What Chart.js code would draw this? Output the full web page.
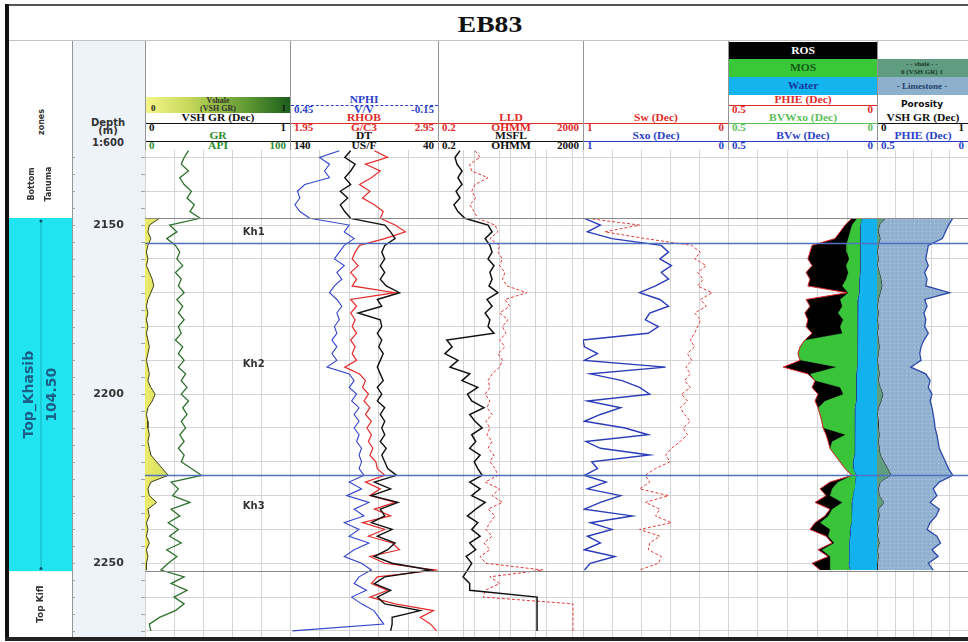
<!DOCTYPE html>
<html>
<head>
<meta charset="utf-8">
<title>EB83</title>
<script src="https://cdn.jsdelivr.net/npm/chart.js@4.4.1/dist/chart.umd.min.js"></script>
<style>
	html, body { margin: 0; padding: 0; background: #fff; }
	#log { position: relative; width: 968px; height: 642px; overflow: hidden; background: #fff; }
	#log div, #log canvas { position: absolute; }
	.t { white-space: nowrap; line-height: 1; font-weight: bold; font-family: 'Liberation Serif', serif; }
</style>
</head>
<body>
<div id="log"></div>
<script>
// ---- data (depth in m) ----
var depthRange = [2127.8, 2271.8];
var depthAll = [2128, 2130, 2132, 2134, 2136, 2138, 2140, 2142, 2144, 2146,
	2148, 2150, 2152, 2154, 2156, 2158, 2160, 2162, 2164, 2166,
	2168, 2170, 2172, 2174, 2176, 2178, 2180, 2182, 2184, 2186,
	2188, 2190, 2192, 2194, 2196, 2198, 2200, 2202, 2204, 2206,
	2208, 2210, 2212, 2214, 2216, 2218, 2220, 2222, 2224, 2226,
	2228, 2230, 2232, 2234, 2236, 2238, 2240, 2242, 2244, 2246,
	2248, 2250, 2252, 2254, 2256, 2258, 2260, 2262, 2264, 2266,
	2268, 2270];
var depthKh = [2148, 2150, 2152, 2154, 2156, 2158, 2160, 2162, 2164, 2166,
	2168, 2170, 2172, 2174, 2176, 2178, 2180, 2182, 2184, 2186,
	2188, 2190, 2192, 2194, 2196, 2198, 2200, 2202, 2204, 2206,
	2208, 2210, 2212, 2214, 2216, 2218, 2220, 2222, 2224, 2226,
	2228, 2230, 2232, 2234, 2236, 2238, 2240, 2242, 2244, 2246,
	2248, 2250, 2252];

var gr = [30, 27, 25, 30, 24, 27, 32, 29, 34, 31,
	38, 17, 22, 15, 21, 24, 22, 26, 21, 25,
	23, 27, 22, 26, 23, 27, 23, 25, 21, 26,
	23, 27, 23, 28, 25, 29, 25, 30, 26, 29,
	25, 28, 24, 27, 23, 27, 25, 32, 39, 18,
	23, 19, 31, 18, 24, 16, 23, 17, 25, 15,
	22, 16, 11, 27, 18, 29, 20, 27, 21, 10,
	3, 4];
var nphi = [0.25, 0.33, 0.29, 0.31, 0.29, 0.39, 0.42, 0.41, 0.43, 0.41,
	0.37, 0.21, 0.23, 0.19, 0.23, 0.25, 0.27, 0.23, 0.26, 0.24,
	0.27, 0.29, 0.26, 0.24, 0.26, 0.25, 0.27, 0.26, 0.28, 0.26,
	0.28, 0.26, 0.30, 0.21, 0.19, 0.21, 0.18, 0.20, 0.17, 0.19,
	0.17, 0.19, 0.17, 0.18, 0.16, 0.17, 0.16, 0.17, 0.15, 0.21,
	0.16, 0.22, 0.13, 0.19, 0.15, 0.23, 0.17, 0.21, 0.13, 0.19,
	0.23, 0.16, 0.12, 0.17, 0.19, 0.14, 0.20, 0.16, 0.11, 0.09,
	0.07, 0.44];
var rhob = [2.52, 2.61, 2.46, 2.56, 2.50, 2.42, 2.49, 2.44, 2.52, 2.58,
	2.56, 2.66, 2.73, 2.59, 2.42, 2.39, 2.37, 2.41, 2.36, 2.40,
	2.37, 2.66, 2.36, 2.40, 2.36, 2.39, 2.37, 2.40, 2.36, 2.39,
	2.37, 2.40, 2.32, 2.42, 2.46, 2.44, 2.48, 2.45, 2.49, 2.46,
	2.50, 2.47, 2.50, 2.48, 2.51, 2.49, 2.53, 2.54, 2.59, 2.46,
	2.56, 2.49, 2.66, 2.52, 2.63, 2.44, 2.59, 2.48, 2.64, 2.69,
	2.49, 2.59, 2.94, 2.54, 2.50, 2.61, 2.49, 2.66, 2.92, 2.83,
	2.90, 2.94];
var dt = [99, 103, 96, 99, 103, 99, 106, 101, 106, 103,
	99, 76, 72, 69, 76, 78, 76, 79, 76, 79,
	75, 66, 81, 78, 94, 79, 78, 81, 78, 80,
	77, 79, 81, 79, 77, 81, 78, 81, 76, 79,
	76, 78, 76, 79, 75, 78, 76, 74, 68, 83,
	72, 85, 67, 79, 76, 85, 71, 81, 69, 74,
	83, 71, 45, 76, 83, 72, 81, 76, 52, 71,
	71, 72];
var lld = [2.1, 2.9, 1.5, 1.7, 4.8, 2.1, 1.7, 2.2, 1.5, 2.0,
	2.5, 7.5, 9.0, 5.4, 10, 9.0, 12, 10, 14, 12,
	16, 57, 14, 19, 10, 17, 12, 15, 10, 14,
	9.0, 12, 10, 6.2, 4.8, 5.4, 4.0, 5.4, 4.5, 6.2,
	4.2, 5.4, 4.5, 6.2, 4.8, 7.0, 5.4, 7.5, 9.0, 4.0,
	10, 6.2, 12, 4.8, 7.5, 5.4, 4.2, 6.2, 3.7, 5.4,
	2.9, 4.2, 158, 5.4, 10, 4.0, 3.5, 1060, 1060, 1060,
	1060, 1060];
var msfl = [0.81, 0.59, 0.67, 0.92, 0.71, 0.92, 0.63, 0.81, 0.55, 0.71,
	1.1, 4.8, 6.2, 4.0, 5.4, 6.2, 4.8, 7.0, 5.4, 6.2,
	5.1, 9.0, 4.5, 6.2, 4.0, 5.4, 4.8, 7.0, 0.35, 0.49,
	0.31, 0.71, 0.43, 1.5, 0.92, 2.5, 1.3, 1.7, 3.7, 1.5,
	2.1, 3.3, 1.7, 2.2, 1.5, 2.9, 2.0, 2.5, 3.3, 1.5,
	2.9, 1.7, 4.0, 2.2, 1.3, 2.5, 1.7, 2.9, 1.5, 2.2,
	1.2, 1.7, 1.3, 0.98, 1.5, 1.5, 108, 108, 108, 108,
	108, 108];

var vsh = [0.10, 0.03, 0.02, 0.04, 0.02, 0.01, 0.02, 0.01, 0.03, 0.05,
	0.06, 0.04, 0.02, 0.01, 0.02, 0.01, 0.02, 0.01, 0.02, 0.03,
	0.02, 0.01, 0.02, 0.03, 0.02, 0.04, 0.07, 0.05, 0.02, 0.01,
	0.02, 0.02, 0.03, 0.02, 0.03, 0.04, 0.08, 0.12, 0.16, 0.04,
	0.02, 0.03, 0.08, 0.02, 0.03, 0.01, 0.02, 0.01, 0.03, 0.01,
	0.02, 0.01, 0.01];
var sxo = [0.99, 0.88, 0.97, 0.80, 0.46, 0.41, 0.47, 0.39, 0.46, 0.41,
	0.50, 0.61, 0.47, 0.41, 0.54, 0.57, 0.48, 0.55, 1.00, 0.99,
	0.90, 0.99, 0.43, 0.95, 0.73, 0.61, 0.54, 0.97, 0.74, 0.88,
	0.99, 0.71, 0.55, 0.98, 0.88, 0.54, 0.94, 0.90, 0.99, 0.84,
	0.97, 0.74, 0.88, 0.99, 0.66, 0.95, 0.80, 0.97, 0.88, 0.99,
	0.78, 0.95, 0.99];
var sw = [0.97, 0.61, 0.85, 0.57, 0.25, 0.19, 0.23, 0.15, 0.21, 0.17,
	0.21, 0.11, 0.19, 0.15, 0.23, 0.19, 0.21, 0.23, 0.26, 0.23,
	0.28, 0.25, 0.29, 0.26, 0.30, 0.26, 0.32, 0.28, 0.33, 0.30,
	0.26, 0.31, 0.28, 0.33, 0.39, 0.43, 0.40, 0.50, 0.57, 0.54,
	0.61, 0.41, 0.57, 0.47, 0.50, 0.39, 0.61, 0.47, 0.54, 0.55,
	0.46, 0.48, 0.61];
var phie = [0.084, 0.107, 0.124, 0.141, 0.218, 0.225, 0.232, 0.218, 0.238, 0.225,
	0.232, 0.101, 0.238, 0.225, 0.242, 0.232, 0.238, 0.218, 0.242, 0.258,
	0.265, 0.258, 0.315, 0.232, 0.208, 0.218, 0.198, 0.208, 0.198, 0.191,
	0.185, 0.181, 0.171, 0.164, 0.158, 0.141, 0.124, 0.107, 0.084, 0.158,
	0.191, 0.171, 0.208, 0.158, 0.175, 0.208, 0.225, 0.171, 0.151, 0.198,
	0.164, 0.218, 0.191];
var bvwxo = [0.067, 0.084, 0.091, 0.097, 0.104, 0.101, 0.094, 0.104, 0.097, 0.104,
	0.117, 0.097, 0.124, 0.117, 0.131, 0.114, 0.124, 0.117, 0.242, 0.258,
	0.265, 0.258, 0.138, 0.225, 0.208, 0.124, 0.114, 0.175, 0.198, 0.191,
	0.185, 0.181, 0.107, 0.151, 0.158, 0.141, 0.124, 0.107, 0.084, 0.131,
	0.151, 0.158, 0.117, 0.151, 0.164, 0.191, 0.158, 0.164, 0.144, 0.185,
	0.158, 0.158, 0.158];
var bvw = [0.050, 0.057, 0.054, 0.057, 0.057, 0.057, 0.054, 0.057, 0.057, 0.060,
	0.060, 0.060, 0.064, 0.064, 0.064, 0.064, 0.064, 0.067, 0.067, 0.067,
	0.067, 0.067, 0.067, 0.070, 0.070, 0.070, 0.070, 0.070, 0.074, 0.074,
	0.074, 0.074, 0.074, 0.077, 0.077, 0.077, 0.081, 0.081, 0.070, 0.074,
	0.077, 0.081, 0.084, 0.084, 0.087, 0.087, 0.091, 0.091, 0.094, 0.094,
	0.094, 0.097, 0.091];

// formations and zones
var zoneLines = [['Bottom', 'Tanuma'], ['Top_Khasib', '104.50'], ['Top Kifl']];
var zoneTops = [2127.8, 2147.9, 2252.4];
var zoneBases = [2147.9, 2252.4, 2271.8];
var subZones = ['Kh1', 'Kh2', 'Kh3'];
var subZoneLabelDepth = [2152.3, 2191.2, 2233.1];
var topDepths = [2147.9, 2155.3, 2223.9, 2252.4];

// scale ticks
var gridDepths = [2130, 2140, 2150, 2160, 2170, 2180, 2190, 2200, 2210, 2220, 2230, 2240, 2250, 2260, 2270];
var tickDepths = [2130, 2135, 2140, 2145, 2150, 2155, 2160, 2165, 2170, 2175, 2180, 2185, 2190, 2195, 2200,
	2205, 2210, 2215, 2220, 2225, 2230, 2235, 2240, 2245, 2250, 2255, 2260, 2265, 2270];
var depthLabels = [2150, 2200, 2250];
var resGrid = [0.2, 1, 2, 10, 20, 100, 200, 1000, 2000];

// header rows: track, line y, name, left, unit, right, text colour, line colour, dashed
var hdrRows = [
	['gr', 123, 'VSH GR (Dec)', '0', '', '1', '#111', '#111', false],
	['gr', 141, 'GR', '0', 'API', '100', '#2e8b2e', '#111', false],
	['por', 105, 'NPHI', '0.45', 'V/V', '-0.15', '#2b3fc8', '#2b3fc8', true],
	['por', 123, 'RHOB', '1.95', 'G/C3', '2.95', '#e02a2a', '#e02a2a', false],
	['por', 141, 'DT', '140', 'US/F', '40', '#111', '#111', false],
	['res', 123, 'LLD', '0.2', 'OHMM', '2000', '#e02a2a', '#e02a2a', false],
	['res', 141, 'MSFL', '0.2', 'OHMM', '2000', '#111', '#111', false],
	['sw', 123, 'Sw (Dec)', '1', '', '0', '#e02a2a', '#e02a2a', false],
	['sw', 141, 'Sxo (Dec)', '1', '', '0', '#2b3fc8', '#2b3fc8', false],
	['bvw', 105, 'PHIE (Dec)', '0.5', '', '0', '#e02a2a', '#e02a2a', false],
	['bvw', 123, 'BVWxo (Dec)', '0.5', '', '0', '#5cbf5c', '#5cbf5c', false],
	['bvw', 141, 'BVw (Dec)', '0.5', '', '0', '#2b3fc8', '#2b3fc8', false],
	['lith', 123, 'VSH GR (Dec)', '0', '', '1', '#111', '#111', false],
	['lith', 141, 'PHIE (Dec)', '0.5', '', '0', '#2b3fc8', '#2b3fc8', false]
];

// ---- layout ----
var TOP = 150, BOTTOM = 637;
var T = { zone: [9, 72], depth: [72, 145], gr: [145, 290], por: [290, 438], res: [438, 583], sw: [583, 728], bvw: [728, 877], lith: [877, 968] };
var GRID = '#d4d4d4';
var root = document.getElementById('log');

function el(tag, css) {
	var d = document.createElement(tag);
	d.style.cssText = css;
	root.appendChild(d);
	return d;
}

function rect(x, y, w, h, bg, extra) {
	return el('div', 'left:' + x + 'px;top:' + y + 'px;width:' + w + 'px;height:' + h + 'px;background:' + bg + ';' + (extra || ''));
}

function txt(s, x, y, o) {
	o = o || {};
	var d = el('div', '');
	d.className = 't';
	d.textContent = s;
	var tx = o.a === 'l' ? '0' : (o.a === 'r' ? '-100%' : '-50%');
	d.style.left = x + 'px';
	d.style.top = y + 'px';
	d.style.color = o.c || '#111';
	d.style.fontSize = (o.s || 10) + 'px';
	if (o.f) d.style.fontFamily = o.f;
	d.style.transformOrigin = o.a === 'l' ? 'left center' : (o.a === 'r' ? 'right center' : 'center center');
	d.style.transform = 'translate(' + tx + ',-50%)' + (o.r ? ' rotate(' + o.r + 'deg)' : '') + ' scaleX(' + (o.sx || 1) + ')';
	return d;
}

// frame, columns
rect(72, 41, 73, 596, '#eef2f9');
rect(5, 4, 963, 2, '#555');
rect(5, 4, 4, 637, '#111');
rect(5, 637, 963, 4, '#222');
rect(9, 40, 959, 1, '#c4c4c4');
[72, 145, 290, 438, 583, 728, 877].forEach(function (x) {
	rect(x, 41, 1, 596, '#959595');
});

txt('EB83', 490, 24, { s: 24, sx: 1.15 });

// left headers
var SANS = "'DejaVu Sans', sans-serif";
txt('zones', 42, 122, { s: 8, f: SANS, r: -90, c: '#333' });
txt('Depth', 108, 123, { s: 10, f: SANS, c: '#333' });
txt('(m)', 108, 131, { s: 10, f: SANS, c: '#333' });
txt('1:600', 108, 143, { s: 10, f: SANS, c: '#333' });

// colour boxes
rect(146, 97, 144, 16, 'linear-gradient(to right, #f6f68a 0%, #c6d85a 30%, #5f9a32 70%, #1c5e1c 100%)');
txt('Vshale', 218, 101, { s: 8, c: '#333' });
txt('(VSH GR)', 218, 109, { s: 8, c: '#333' });
txt('0', 151, 108, { s: 9, a: 'l', c: '#222' });
txt('1', 286, 108, { s: 9, a: 'r', c: '#111' });

rect(729, 42, 148, 17, '#000');
rect(729, 59, 148, 18, '#38c838');
rect(729, 77, 148, 18, '#14b4ee');
txt('ROS', 803, 51, { s: 10, c: '#fff', sx: 1.15 });
txt('MOS', 803, 68, { s: 10, c: '#145a14', sx: 1.15 });
txt('Water', 803, 86, { s: 10, c: '#1438a0', sx: 1.15 });

rect(878, 59, 90, 18, '#5f9c80');
rect(878, 77, 90, 18, '#8db1cd');
txt('- - shale - -', 922, 64, { s: 7, c: '#173a2a' });
txt('0  (VSH GR)  1', 922, 72, { s: 7, c: '#173a2a' });
txt('- Limestone -', 922, 86, { s: 9, c: '#23406a' });
txt('Porosity', 922, 104, { s: 9, f: SANS, c: '#111' });

hdrRows.forEach(function (r) {
	var x1 = T[r[0]][0], x2 = T[r[0]][1], cx = (x1 + x2) / 2;
	rect(x1 + 1, r[1], x2 - x1 - 1, 0, 'transparent', 'border-top:1px ' + (r[8] ? 'dashed ' : 'solid ') + r[7] + ';');
	txt(r[2], cx, r[1] - 5, { s: 10, c: r[6], sx: 1.15 });
	txt(r[3], x1 + 4, r[1] + 5, { s: 10, c: r[6], a: 'l', sx: 1.1 });
	if (r[4]) txt(r[4], cx, r[1] + 5, { s: 10, c: r[6], sx: 1.15 });
	txt(r[5], x2 - 4, r[1] + 5, { s: 10, c: r[6], a: 'r', sx: 1.1 });
});

// ---- charts ----
function canvasFor(t) {
	var c = document.createElement('canvas');
	c.width = T[t][1] - T[t][0];
	c.height = BOTTOM - TOP;
	c.style.left = T[t][0] + 'px';
	c.style.top = TOP + 'px';
	root.appendChild(c);
	return c;
}

function depthScale(grid) {
	return {
		type: 'linear', min: depthRange[0], max: depthRange[1], reverse: true,
		afterBuildTicks: function (s) {
			s.ticks = gridDepths.map(function (v) { return { value: v }; });
		},
		ticks: { display: false },
		border: { display: false },
		grid: { display: grid, color: GRID, drawTicks: false }
	};
}

function gridScale(n) {
	return {
		type: 'linear', axis: 'x', position: 'top', min: 0, max: n,
		ticks: { display: false, stepSize: 1 },
		border: { display: false },
		grid: { color: GRID, drawTicks: false }
	};
}

function curveScale(min, max, rev) {
	return { type: 'linear', axis: 'x', display: false, min: min, max: max, reverse: !!rev };
}

function curve(xs, ds, axisId, color, width, dash, fill, bg) {
	return {
		data: ds.map(function (d, i) { return { x: xs[i], y: d }; }),
		xAxisID: axisId,
		yAxisID: 'y',
		borderColor: color,
		borderWidth: width,
		borderDash: dash || [],
		pointRadius: 0,
		tension: 0,
		fill: fill === undefined ? false : fill,
		backgroundColor: bg || 'transparent'
	};
}

var topsPlugin = {
	id: 'tops',
	afterDatasetsDraw: function (chart) {
		var ctx = chart.ctx, a = chart.chartArea, y = chart.scales.y;
		var colors = ['#8a8a8a', '#4f6fbf', '#4f6fbf', '#8a8a8a'];
		var widths = [1, 1.6, 1.6, 1];
		ctx.save();
		for (var i = 0; i < topDepths.length; i++) {
			var py = Math.round(y.getPixelForValue(topDepths[i])) + 0.5;
			ctx.strokeStyle = colors[i];
			ctx.lineWidth = widths[i];
			ctx.beginPath();
			ctx.moveTo(a.left, py);
			ctx.lineTo(a.right, py);
			ctx.stroke();
		}
		ctx.restore();
	}
};

var khPlugin = {
	id: 'khLabels',
	afterDatasetsDraw: function (chart) {
		var ctx = chart.ctx, a = chart.chartArea, y = chart.scales.y;
		ctx.save();
		ctx.fillStyle = '#333';
		ctx.font = 'bold 10px "DejaVu Sans"';
		ctx.textAlign = 'center';
		ctx.textBaseline = 'middle';
		for (var i = 0; i < subZones.length; i++) {
			ctx.fillText(subZones[i], a.left + (a.right - a.left) * 0.75, y.getPixelForValue(subZoneLabelDepth[i]));
		}
		ctx.restore();
	}
};

var depthPlugin = {
	id: 'depthTrack',
	afterDraw: function (chart) {
		var ctx = chart.ctx, a = chart.chartArea, y = chart.scales.y;
		ctx.save();
		ctx.strokeStyle = '#a0a0a0';
		ctx.lineWidth = 1;
		tickDepths.forEach(function (d) {
			var py = Math.round(y.getPixelForValue(d)) + 0.5;
			ctx.beginPath();
			ctx.moveTo(a.left, py); ctx.lineTo(a.left + 3, py);
			ctx.moveTo(a.right - 4, py); ctx.lineTo(a.right, py);
			ctx.stroke();
		});
		ctx.fillStyle = '#333';
		ctx.font = 'bold 11px "DejaVu Sans"';
		ctx.textAlign = 'center';
		ctx.textBaseline = 'middle';
		depthLabels.forEach(function (d) {
			ctx.fillText(String(d), (a.left + a.right) / 2, y.getPixelForValue(d));
		});
		ctx.restore();
	}
};

var zonePlugin = {
	id: 'zones',
	afterDraw: function (chart) {
		var ctx = chart.ctx, a = chart.chartArea, y = chart.scales.y;
		var fills = ['#ffffff', '#20e4ef', '#ffffff'];
		var sizes = [8, 14, 9];
		var gaps = [17, 23, 0];
		var cols = ['#333', '#1b5e86', '#333'];
		var cx = (a.left + a.right) / 2;
		ctx.save();
		for (var i = 0; i < zoneLines.length; i++) {
			var y1 = y.getPixelForValue(zoneTops[i]), y2 = y.getPixelForValue(zoneBases[i]);
			ctx.fillStyle = fills[i];
			ctx.fillRect(a.left, y1, a.right - a.left, y2 - y1);
			if (i === 1) {
				ctx.strokeStyle = 'rgba(20,90,110,0.35)';
				ctx.beginPath();
				ctx.moveTo(cx + 0.5, y1 + 2); ctx.lineTo(cx + 0.5, y2 - 2);
				ctx.stroke();
				ctx.fillStyle = '#14506a';
				ctx.beginPath(); ctx.arc(cx + 0.5, y1 + 3, 1.5, 0, 2 * Math.PI); ctx.fill();
				ctx.beginPath(); ctx.arc(cx + 0.5, y2 - 3, 1.5, 0, 2 * Math.PI); ctx.fill();
			}
			var lines = zoneLines[i];
			ctx.save();
			ctx.translate(cx, (y1 + y2) / 2);
			ctx.rotate(-Math.PI / 2);
			ctx.fillStyle = cols[i];
			ctx.font = 'bold ' + sizes[i] + 'px "DejaVu Sans"';
			ctx.textAlign = 'center';
			ctx.textBaseline = 'middle';
			for (var k = 0; k < lines.length; k++) {
				ctx.fillText(lines[k], 0, (k - (lines.length - 1) / 2) * gaps[i]);
			}
			ctx.restore();
		}
		ctx.restore();
	}
};

function makeChart(t, scales, datasets, plugins, grid) {
	scales.y = depthScale(grid);
	return new Chart(canvasFor(t), {
		type: 'line',
		data: { datasets: datasets },
		options: {
			indexAxis: 'y',
			responsive: false,
			animation: false,
			devicePixelRatio: 1,
			layout: { padding: 0 },
			plugins: { legend: { display: false }, tooltip: { enabled: false } },
			scales: scales
		},
		plugins: plugins
	});
}

// zone and depth columns
makeChart('zone', { x: curveScale(0, 1) }, [], [zonePlugin], false);
makeChart('depth', { x: curveScale(0, 1) }, [], [depthPlugin], false);

// GR track
var vshFill = function (c) {
	var a = c.chart.chartArea;
	if (!a) return '#e9ea6e';
	var g = c.chart.ctx.createLinearGradient(a.left, 0, a.right, 0);
	g.addColorStop(0, '#ecec6a');
	g.addColorStop(0.3, '#bfd255');
	g.addColorStop(1, '#1e641e');
	return g;
};
makeChart('gr', { xg: gridScale(5), xVsh: curveScale(0, 1), xGr: curveScale(0, 100) }, [
	curve(vsh, depthKh, 'xVsh', '#3d3d18', 1, [], { value: 0 }, vshFill),
	curve(gr, depthAll, 'xGr', '#2f722f', 1.3)
], [topsPlugin, khPlugin], true);

// porosity track
makeChart('por', { xg: gridScale(5), xN: curveScale(-0.15, 0.45, true), xR: curveScale(1.95, 2.95), xD: curveScale(40, 140, true) }, [
	curve(dt, depthAll, 'xD', '#111', 1.4),
	curve(rhob, depthAll, 'xR', '#e52b2b', 1.2),
	curve(nphi, depthAll, 'xN', '#3344cc', 1.1)
], [topsPlugin], true);

// resistivity track
makeChart('res', {
	xL: {
		type: 'logarithmic', axis: 'x', position: 'top', min: 0.2, max: 2000,
		afterBuildTicks: function (s) { s.ticks = resGrid.map(function (v) { return { value: v }; }); },
		ticks: { display: false }, border: { display: false }, grid: { color: GRID, drawTicks: false }
	},
	xM: { type: 'logarithmic', axis: 'x', display: false, min: 0.2, max: 2000 }
}, [
	curve(msfl, depthAll, 'xM', '#111', 1.5),
	curve(lld, depthAll, 'xL', '#e23a3a', 1, [3, 2])
], [topsPlugin], true);

// saturation track
makeChart('sw', { xg: gridScale(5), xS: curveScale(0, 1, true) }, [
	curve(sxo, depthKh, 'xS', '#2a3cb8', 1.4),
	curve(sw, depthKh, 'xS', '#e0403a', 1, [3, 2])
], [topsPlugin], true);

// bulk volume water track
makeChart('bvw', { xg: gridScale(5), xB: curveScale(0, 0.5, true) }, [
	curve(phie, depthKh, 'xB', '#e02a2a', 1, [], 1, '#000000'),
	curve(bvwxo, depthKh, 'xB', '#2f9a2f', 1, [], 2, '#3ac43a'),
	curve(bvw, depthKh, 'xB', '#1f2f9a', 1, [], { value: 0 }, '#12b2ef')
], [topsPlugin], true);

// lithology track
function limePattern() {
	var p = document.createElement('canvas');
	p.width = 4;
	p.height = 4;
	var g = p.getContext('2d');
	g.fillStyle = '#92b1d1';
	g.fillRect(0, 0, 4, 4);
	g.fillStyle = '#bcd0e5';
	g.fillRect(1, 1, 1, 1);
	return g.createPattern(p, 'repeat');
}
makeChart('lith', { xg: gridScale(5), xV: curveScale(0, 1), xP: curveScale(0, 0.5, true) }, [
	curve(phie, depthKh, 'xP', '#2b4aa8', 1.3, [], 1, limePattern()),
	curve(vsh, depthKh, 'xV', '#111', 1, [], { value: 0 }, '#5f9c80')
], [topsPlugin], true);
</script>
</body>
</html>
